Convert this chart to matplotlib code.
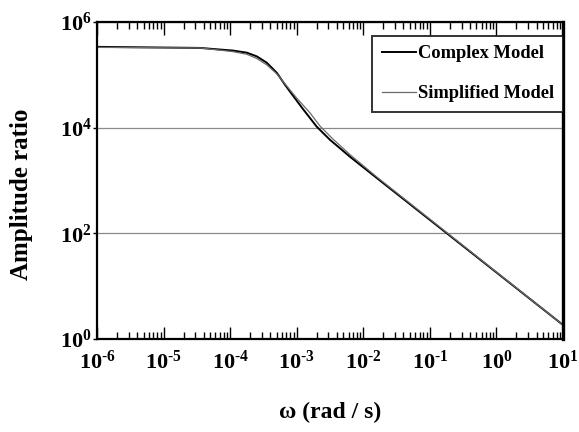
import numpy as np
import matplotlib
matplotlib.use("Agg")
import matplotlib.pyplot as plt
from matplotlib.ticker import LogLocator, FuncFormatter, NullLocator, NullFormatter

plt.rcParams["font.family"] = ["Liberation Serif", "DejaVu Serif"]
plt.rcParams["font.weight"] = "bold"
plt.rcParams["mathtext.fontset"] = "custom"
plt.rcParams["mathtext.rm"] = "Liberation Serif:bold"
plt.rcParams["mathtext.bf"] = "Liberation Serif:bold"
plt.rcParams["mathtext.it"] = "Liberation Serif:bold"

# log10(omega), log10(amplitude)
complex_logw = [-6.0, -4.45, -4.26, -3.96, -3.75, -3.60, -3.45, -3.30, -3.18,
                -3.10, -2.91, -2.70, -2.50, -2.20, -1.80, 1.0]
complex_loga = [5.53, 5.51, 5.49, 5.46, 5.42, 5.35, 5.23, 5.04, 4.82,
                4.68, 4.36, 4.02, 3.77, 3.45, 3.05, 0.265]
simple_logw = [-6.0, -4.45, -3.96, -3.75, -3.60, -3.45, -3.30, -3.15, -3.00,
               -2.80, -2.65, -2.46, -2.20, -1.80, 1.0]
simple_loga = [5.52, 5.51, 5.44, 5.39, 5.31, 5.19, 5.02, 4.79, 4.56,
               4.28, 4.03, 3.79, 3.49, 3.07, 0.265]


def pow10_label(val, pos):
    e = int(round(np.log10(val)))
    if e < 0:
        return r"$\mathbf{10^{\text{-}%d}}$" % (-e)
    return r"$\mathbf{10^{%d}}$" % e


fig = plt.figure(figsize=(5.79, 4.32), dpi=100)
ax = fig.add_axes([0.1675, 0.2153, 0.8049, 0.7337])

ax.plot(10 ** np.array(complex_logw), 10 ** np.array(complex_loga),
        color="black", lw=1.4, label="Complex Model")
ax.plot(10 ** np.array(simple_logw), 10 ** np.array(simple_loga),
        color="#6a6a6a", lw=0.9, label="Simplified Model")

ax.set_xscale("log")
ax.set_yscale("log")
ax.set_xlim(1e-6, 1e1)
ax.set_ylim(1e0, 1e6)

ax.xaxis.set_major_locator(LogLocator(base=10, numticks=20))
ax.xaxis.set_minor_locator(LogLocator(base=10, subs=np.arange(2, 10), numticks=20))
ax.xaxis.set_major_formatter(FuncFormatter(pow10_label))
ax.xaxis.set_minor_formatter(NullFormatter())
ax.yaxis.set_major_locator(LogLocator(base=100, numticks=10))
ax.yaxis.set_minor_locator(NullLocator())
ax.yaxis.set_major_formatter(FuncFormatter(pow10_label))
ax.yaxis.set_minor_formatter(NullFormatter())

ax.tick_params(axis="x", which="both", direction="in", top=True, bottom=True,
               labelsize=16, pad=8, width=1)
ax.tick_params(axis="x", which="major", length=9)
ax.tick_params(axis="x", which="minor", length=5)
ax.tick_params(axis="y", which="major", direction="out", length=3, width=1,
               labelsize=16, pad=1)

ax.grid(True, axis="y", which="major", color="#8a8a8a", lw=0.9)

for side in ["left", "top", "bottom"]:
    ax.spines[side].set_linewidth(1.6)
ax.spines["right"].set_linewidth(2.4)

leg = ax.legend(loc="upper right", bbox_to_anchor=(1.0, 0.956), borderaxespad=0,
                frameon=True, fancybox=False, edgecolor="black",
                prop={"family": "Liberation Serif", "weight": "bold", "size": 13.3},
                handlelength=1.85, handletextpad=0.1, labelspacing=1.25,
                borderpad=0.5)
leg.get_frame().set_linewidth(1.4)

fig.text(22 / 579, 1 - 194 / 432, "Amplitude ratio", rotation=90, ha="center",
         va="center", fontsize=18, fontweight="bold")
fig.text(330 / 579, 1 - 412 / 432, "ω (rad / s)", ha="center", va="center",
         fontsize=17, fontweight="bold")

fig.savefig("out.png", dpi=100)
